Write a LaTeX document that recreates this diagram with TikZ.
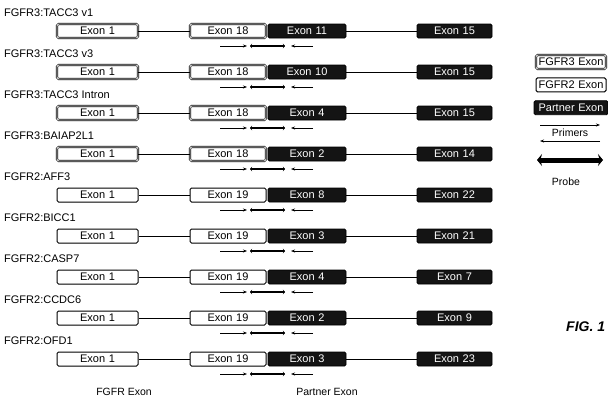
\documentclass[tikz,border=0pt]{standalone}
\usepackage{fontspec}
\setmainfont{Liberation Sans}
\usepackage{xcolor}
\usetikzlibrary{arrows.meta,positioning,calc}
\tikzset{
  exbox/.style={draw, rounded corners=1.5pt, align=center,
                minimum height=14pt, text width=#1, inner sep=0pt,
                font=\fontsize{11}{12}\selectfont},
  exbox/.default=76pt,
  fgthree/.style={exbox=#1, fill=white, draw=black, double=white,
                  double distance=0.9pt, line width=0.6pt},
  fgthree/.default=76pt,
  fgtwo/.style  ={exbox=#1, fill=white, draw=black, line width=1pt},
  fgtwo/.default=76pt,
  partbox/.style={exbox=#1, fill=partblack, draw=black, text=white,
                  line width=0.8pt},
  partbox/.default=78pt,
  genelab/.style={anchor=west, inner sep=0pt,
                  font=\fontsize{11}{12}\selectfont},
  txtlab/.style ={inner sep=0pt, font=\fontsize{10.5}{12}\selectfont},
  link/.style   ={line width=0.9pt},
  primer/.style ={-{Stealth[length=4pt,width=3pt]}, line width=0.8pt},
  probe/.style  ={{Stealth[length=2pt,width=4.5pt]}-{Stealth[length=2pt,width=4.5pt]},
                  line width=2.4pt},
  bigprobe/.style={{Stealth[length=5pt,width=12pt]}-{Stealth[length=5pt,width=12pt]},
                  line width=5pt},
}
\definecolor{partblack}{RGB}{20,20,20}

\begin{document}
\begin{tikzpicture}[x=1pt,y=-1pt]
  \useasboundingbox (0,0) rectangle (608,400);
  % fusion transcripts, one row each
  \foreach \i/\gene/\sty/\fex/\pex/\lex in {
      1/{FGFR3:TACC3 v1}/fgthree/18/11/15,
      2/{FGFR3:TACC3 v3}/fgthree/18/10/15,
      3/{FGFR3:TACC3 Intron}/fgthree/18/4/15,
      4/{FGFR3:BAIAP2L1}/fgthree/18/2/14,
      5/{FGFR2:AFF3}/fgtwo/19/8/22,
      6/{FGFR2:BICC1}/fgtwo/19/3/21,
      7/{FGFR2:CASP7}/fgtwo/19/4/7,
      8/{FGFR2:CCDC6}/fgtwo/19/2/9,
      9/{FGFR2:OFD1}/fgtwo/19/3/23}{
    \pgfmathsetmacro{\c}{31+41*(\i-1)}
    \node[genelab] (lab-\i) at (4,\c-18) {\gene};
    \node[\sty=81pt] (e1-\i) at (97.5,\c) {Exon 1};
    \node[\sty] (fg-\i) at (228,\c) {Exon \fex};
    \node[partbox] (pa-\i) at (307,\c) {Exon \pex};
    \node[partbox=75pt] (la-\i) at (454.5,\c) {Exon \lex};
    \draw[link] (e1-\i) -- (fg-\i);
    \draw[link] (pa-\i) -- (la-\i);
    % primers and probe under the junction
    \draw[primer] (220,\c+15) -- (247,\c+15);
    \draw[probe] (250,\c+15) -- (285,\c+15);
    \draw[primer] (313,\c+15) -- (291,\c+15);
  }
  \node[txtlab] (fgfrlab) at (124,392) {FGFR Exon};
  \node[txtlab] (partlab) at (327,392) {Partner Exon};

  % legend
  \node[fgthree=70pt] (key3) at (571,62) {FGFR3 Exon};
  \node[fgtwo=70pt, below=8pt of key3] (key2) {FGFR2 Exon};
  \node[partbox=74pt, below=8pt of key2] (keyp) {Partner Exon};
  \node[txtlab] (primlab) at (570,133) {Primers};
  \coordinate (pa1) at ($(primlab.center)+(-30,-8)$);
  \coordinate (pa2) at ($(primlab.center)+(30,-8)$);
  \coordinate (pb1) at ($(primlab.center)+(30,8)$);
  \coordinate (pb2) at ($(primlab.center)+(-30,8)$);
  \draw[primer] (pa1) -- (pa2);
  \draw[primer] (pb1) -- (pb2);
  \coordinate (pr1) at ($(primlab.center)+(-33,27)$);
  \coordinate (pr2) at ($(primlab.center)+(33,27)$);
  \draw[bigprobe] (pr1) -- (pr2);
  \node[txtlab] (problab) at (566,182) {Probe};

  \node[anchor=west, inner sep=0pt,
        font=\fontsize{14}{16}\selectfont\bfseries\itshape] (fig) at (566,327) {FIG. 1};
\end{tikzpicture}
\end{document}
